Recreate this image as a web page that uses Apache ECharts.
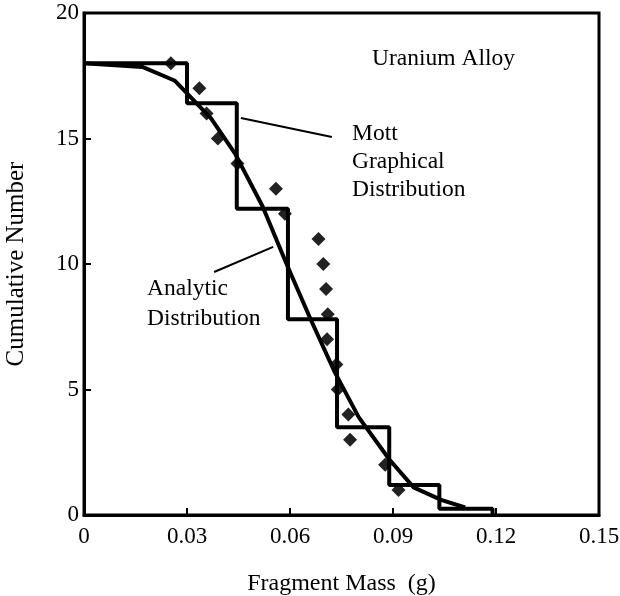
<!DOCTYPE html>
<html>
<head>
<meta charset="utf-8">
<script src="https://cdn.jsdelivr.net/npm/echarts@6/dist/echarts.min.js"></script>
<style>
  html, body { margin: 0; padding: 0; background: #fff; }
  #chart { width: 620px; height: 596px; }
</style>
</head>
<body>
<div id="chart"></div>
<script>
// Mott graphical distribution (step)
var stepMass  = [0, 0.030, 0.0445, 0.0594, 0.0737, 0.0889, 0.1035, 0.119];
var stepCount = [18, 16.4, 12.2, 7.8, 3.5, 1.2, 0.25, 0];

// analytic distribution
var curveMass  = [0, 0.017, 0.0265, 0.037, 0.044, 0.052, 0.059, 0.066, 0.073, 0.080, 0.089, 0.096, 0.104, 0.111];
var curveCount = [18, 17.85, 17.3, 15.8, 14.4, 12.3, 10.0, 7.8, 5.7, 3.9, 2.2, 1.1, 0.6, 0.3];

// measured fragments
var pointMass  = [0.0253, 0.0336, 0.0357, 0.039, 0.0447, 0.0559, 0.0585, 0.0683, 0.0697,
                  0.0705, 0.071, 0.0708, 0.0735, 0.0739, 0.077, 0.0775, 0.0877, 0.0916];
var pointCount = [18, 17, 16, 15, 14, 13, 12, 11, 10, 9, 8, 7, 6, 5, 4, 3, 2, 1];

// leader lines for the annotations
var mottLeader     = [[0.0457, 15.82], [0.0722, 15.06]];
var analyticLeader = [[0.0379, 9.68], [0.0551, 10.68]];

var xTicks = [0, 0.03, 0.06, 0.09, 0.12, 0.15];
var yTicks = [0, 5, 10, 15, 20];

function zip(a, b) {
    return a.map(function (v, i) { return [v, b[i]]; });
}

var font = 'Liberation Serif';
var noteFont = '23.5px "Liberation Serif"';
var chart = echarts.init(document.getElementById('chart'));
var option = {
    animation: false,
    backgroundColor: '#fff',
    grid: {
        left: 84, right: 21, top: 13, bottom: 81,
        outerBoundsMode: 'none',
        show: true, borderColor: '#000', borderWidth: 3
    },
    xAxis: {
        type: 'value',
        min: xTicks[0], max: xTicks[xTicks.length - 1], interval: 0.03,
        name: 'Fragment Mass  (g)',
        nameLocation: 'middle', nameGap: 57,
        nameTextStyle: { fontFamily: font, fontSize: 24, color: '#000' },
        axisLine: { lineStyle: { color: '#000', width: 3 } },
        axisTick: { inside: true, length: 7, lineStyle: { color: '#000', width: 2 } },
        axisLabel: {
            margin: 10, fontFamily: font, fontSize: 23, color: '#000',
            formatter: function (v) { return v === 0 ? '0' : v.toFixed(2); }
        },
        splitLine: { show: false }
    },
    yAxis: {
        type: 'value',
        min: yTicks[0], max: yTicks[yTicks.length - 1], interval: 5,
        name: 'Cumulative Number',
        nameLocation: 'middle', nameGap: 55,
        nameTextStyle: { fontFamily: font, fontSize: 25, color: '#000' },
        axisLine: { lineStyle: { color: '#000', width: 3 } },
        axisTick: { inside: true, length: 7, lineStyle: { color: '#000', width: 2 } },
        axisLabel: { margin: 5, fontFamily: font, fontSize: 23, color: '#000', padding: [6, 0, 0, 0] },
        splitLine: { show: false }
    },
    series: [
        {
            name: 'Mott', type: 'line', step: 'end',
            data: zip(stepMass, stepCount),
            showSymbol: false,
            lineStyle: { color: '#000', width: 4 }
        },
        {
            name: 'Analytic', type: 'line',
            data: zip(curveMass, curveCount),
            showSymbol: false,
            lineStyle: { color: '#000', width: 4 }
        },
        {
            name: 'Data', type: 'scatter',
            data: zip(pointMass, pointCount),
            symbol: 'diamond', symbolSize: 14,
            itemStyle: { color: '#222', opacity: 1 }
        },
        {
            type: 'line', data: mottLeader, showSymbol: false,
            lineStyle: { color: '#000', width: 2 }
        },
        {
            type: 'line', data: analyticLeader, showSymbol: false,
            lineStyle: { color: '#000', width: 2 }
        }
    ],
    graphic: [
        { type: 'text', style: { x: 372, y: 59, text: 'Uranium Alloy', font: noteFont, fill: '#000', verticalAlign: 'middle' } },
        { type: 'text', style: { x: 352, y: 134, text: 'Mott', font: noteFont, fill: '#000', verticalAlign: 'middle' } },
        { type: 'text', style: { x: 352, y: 162, text: 'Graphical', font: noteFont, fill: '#000', verticalAlign: 'middle' } },
        { type: 'text', style: { x: 352, y: 190, text: 'Distribution', font: noteFont, fill: '#000', verticalAlign: 'middle' } },
        { type: 'text', style: { x: 147, y: 289, text: 'Analytic', font: noteFont, fill: '#000', verticalAlign: 'middle' } },
        { type: 'text', style: { x: 147, y: 319, text: 'Distribution', font: noteFont, fill: '#000', verticalAlign: 'middle' } }
    ]
};
chart.setOption(option);
</script>
</body>
</html>
